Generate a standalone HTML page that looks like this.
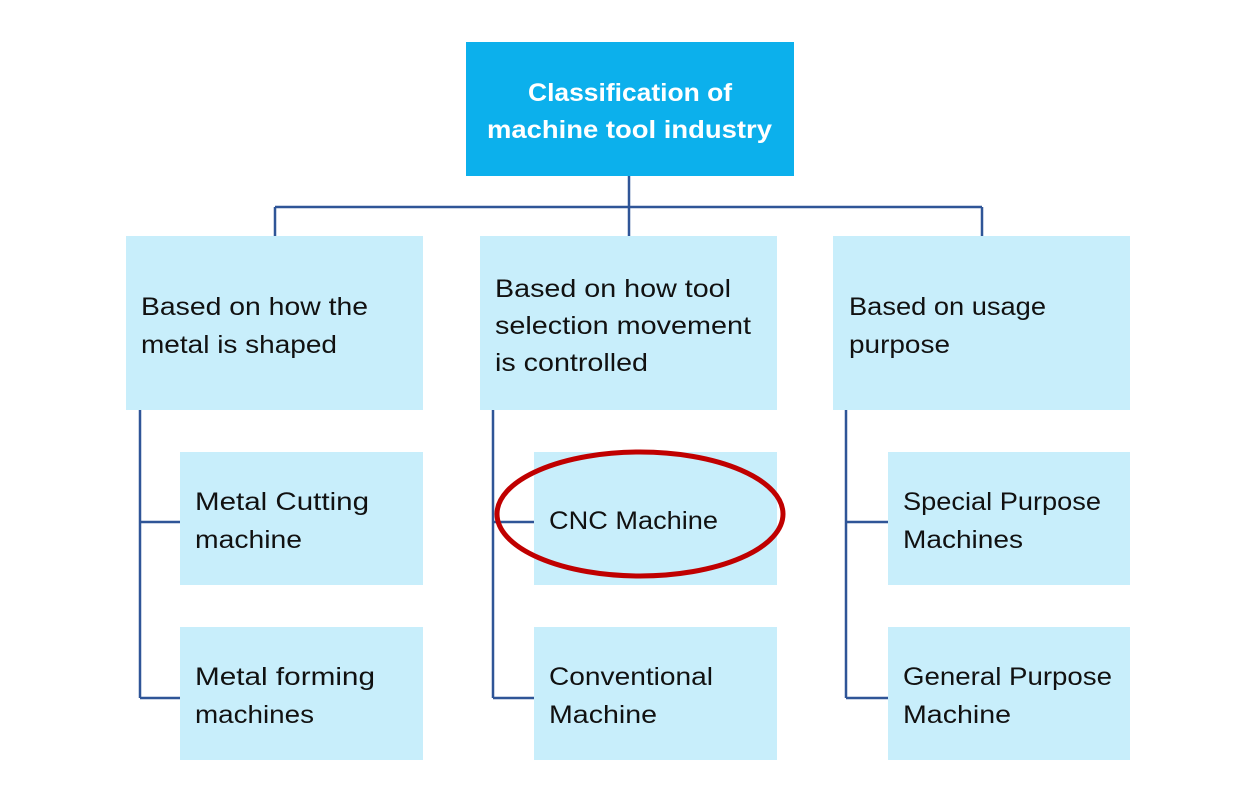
<!DOCTYPE html>
<html><head><meta charset="utf-8"><style>
html,body{margin:0;padding:0;background:#fff;}
svg text{font-family:"Liberation Sans",sans-serif;font-size:25px;fill:#111;}
</style></head><body>
<svg width="1241" height="803" viewBox="0 0 1241 803" xmlns="http://www.w3.org/2000/svg">
<rect x="0" y="0" width="1241" height="803" fill="#fff"/>
<g stroke="#2F5597" stroke-width="2.5" fill="none">
<path d="M629 176 V207 M275 207 H982 M275 207 V236 M629 207 V236 M982 207 V236"/>
<path d="M140 410 V698 M140 522 H180 M140 698 H180"/>
<path d="M493 410 V698 M493 522 H534 M493 698 H534"/>
<path d="M846 410 V698 M846 522 H888 M846 698 H888"/>
</g>
<rect x="466" y="42" width="328" height="134" fill="#0CB0EC"/>
<g fill="#C8EEFB">
<rect x="126" y="236" width="297" height="174"/>
<rect x="480" y="236" width="297" height="174"/>
<rect x="833" y="236" width="297" height="174"/>
<rect x="180" y="452" width="243" height="133"/>
<rect x="180" y="627" width="243" height="133"/>
<rect x="534" y="452" width="243" height="133"/>
<rect x="534" y="627" width="243" height="133"/>
<rect x="888" y="452" width="242" height="133"/>
<rect x="888" y="627" width="242" height="133"/>
</g>
<text x="528" y="101" textLength="204" lengthAdjust="spacingAndGlyphs" style="fill:#fff;font-weight:bold">Classification of</text>
<text x="487" y="138" textLength="285" lengthAdjust="spacingAndGlyphs" style="fill:#fff;font-weight:bold">machine tool industry</text>

<text x="141" y="315" textLength="227" lengthAdjust="spacingAndGlyphs">Based on how the</text>
<text x="141" y="353" textLength="196" lengthAdjust="spacingAndGlyphs">metal is shaped</text>
<text x="495" y="297" textLength="236" lengthAdjust="spacingAndGlyphs">Based on how tool</text>
<text x="495" y="334" textLength="256" lengthAdjust="spacingAndGlyphs">selection movement</text>
<text x="495" y="371" textLength="153" lengthAdjust="spacingAndGlyphs">is controlled</text>
<text x="849" y="315" textLength="197" lengthAdjust="spacingAndGlyphs">Based on usage</text>
<text x="849" y="353" textLength="101" lengthAdjust="spacingAndGlyphs">purpose</text>

<text x="195" y="510" textLength="174" lengthAdjust="spacingAndGlyphs">Metal Cutting</text>
<text x="195" y="548" textLength="107" lengthAdjust="spacingAndGlyphs">machine</text>
<text x="195" y="685" textLength="180" lengthAdjust="spacingAndGlyphs">Metal forming</text>
<text x="195" y="723" textLength="119" lengthAdjust="spacingAndGlyphs">machines</text>
<text x="549" y="529" textLength="169" lengthAdjust="spacingAndGlyphs">CNC Machine</text>
<text x="549" y="685" textLength="164" lengthAdjust="spacingAndGlyphs">Conventional</text>
<text x="549" y="723" textLength="108" lengthAdjust="spacingAndGlyphs">Machine</text>
<text x="903" y="510" textLength="198" lengthAdjust="spacingAndGlyphs">Special Purpose</text>
<text x="903" y="548" textLength="120" lengthAdjust="spacingAndGlyphs">Machines</text>
<text x="903" y="685" textLength="209" lengthAdjust="spacingAndGlyphs">General Purpose</text>
<text x="903" y="723" textLength="108" lengthAdjust="spacingAndGlyphs">Machine</text>

<ellipse cx="640" cy="514" rx="143" ry="62" fill="none" stroke="#C00000" stroke-width="5"/>
</svg>
</body></html>
